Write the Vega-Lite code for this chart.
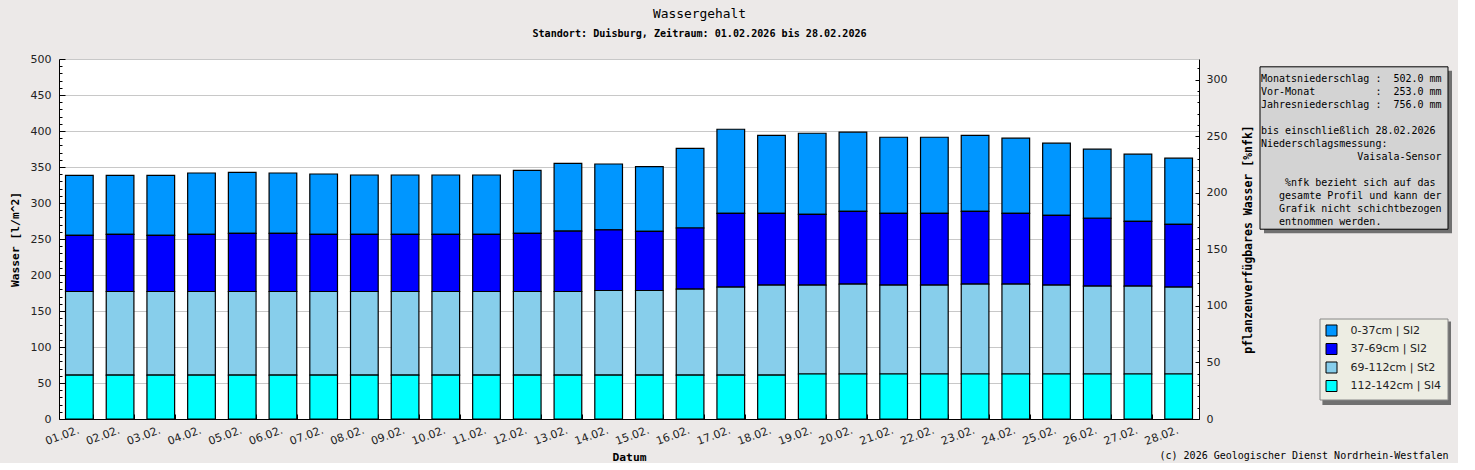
{
  "$schema": "https://vega.github.io/schema/vega-lite/v6.json",
  "background": "#ECE9E8",
  "padding": {"left": 9, "top": 8, "right": 5, "bottom": 0},
  "title": {
    "text": "Wassergehalt",
    "subtitle": "Standort: Duisburg, Zeitraum: 01.02.2026 bis 28.02.2026",
    "font": "DejaVu Sans Mono",
    "fontSize": 12.9,
    "fontWeight": "normal",
    "color": "black",
    "subtitleFont": "DejaVu Sans Mono",
    "subtitleFontSize": 10.1,
    "subtitleFontWeight": "bold",
    "subtitleColor": "black",
    "subtitlePadding": 8,
    "anchor": "middle",
    "dx": -31,
    "offset": 14
  },
  "bounds": "flush",
  "spacing": 61,
  "config": {
    "axis": {
      "labelFont": "DejaVu Sans",
      "labelFontSize": 11,
      "labelColor": "#222222",
      "domainColor": "black",
      "tickColor": "black",
      "titleFont": "DejaVu Sans Mono",
      "titleFontWeight": "bold",
      "titleFontSize": 11.3,
      "titleColor": "black",
      "gridColor": "#C8C8C8"
    },
    "legend": {
      "orient": "none",
      "legendX": 1260.5,
      "legendY": 259.5,
      "fillColor": "#EDEDE3",
      "strokeColor": "#888888",
      "padding": 6,
      "rowPadding": 2.5,
      "symbolType": "square",
      "symbolSize": 121,
      "symbolStrokeColor": "black",
      "symbolStrokeWidth": 1,
      "labelFont": "DejaVu Sans",
      "labelFontSize": 11,
      "labelColor": "#222222",
      "labelOffset": 13
    }
  },
  "hconcat": [
    {
      "width": 1140,
      "height": 360,
      "view": {"fill": "white", "stroke": null},
      "layer": [
        {
          "data": {
            "values": [
              {"d": "01.02.", "s": "0-37cm | Sl2", "n": 0, "v": 83.4},
              {"d": "01.02.", "s": "37-69cm | Sl2", "n": 37, "v": 78.0},
              {"d": "01.02.", "s": "69-112cm | St2", "n": 69, "v": 116.1},
              {"d": "01.02.", "s": "112-142cm | Sl4", "n": 112, "v": 61},
              {"d": "02.02.", "s": "0-37cm | Sl2", "n": 0, "v": 82.0},
              {"d": "02.02.", "s": "37-69cm | Sl2", "n": 37, "v": 79.4},
              {"d": "02.02.", "s": "69-112cm | St2", "n": 69, "v": 116.1},
              {"d": "02.02.", "s": "112-142cm | Sl4", "n": 112, "v": 61},
              {"d": "03.02.", "s": "0-37cm | Sl2", "n": 0, "v": 83.4},
              {"d": "03.02.", "s": "37-69cm | Sl2", "n": 37, "v": 78.0},
              {"d": "03.02.", "s": "69-112cm | St2", "n": 69, "v": 116.1},
              {"d": "03.02.", "s": "112-142cm | Sl4", "n": 112, "v": 61},
              {"d": "04.02.", "s": "0-37cm | Sl2", "n": 0, "v": 85.2},
              {"d": "04.02.", "s": "37-69cm | Sl2", "n": 37, "v": 79.4},
              {"d": "04.02.", "s": "69-112cm | St2", "n": 69, "v": 116.1},
              {"d": "04.02.", "s": "112-142cm | Sl4", "n": 112, "v": 61},
              {"d": "05.02.", "s": "0-37cm | Sl2", "n": 0, "v": 84.7},
              {"d": "05.02.", "s": "37-69cm | Sl2", "n": 37, "v": 80.8},
              {"d": "05.02.", "s": "69-112cm | St2", "n": 69, "v": 116.1},
              {"d": "05.02.", "s": "112-142cm | Sl4", "n": 112, "v": 61},
              {"d": "06.02.", "s": "0-37cm | Sl2", "n": 0, "v": 83.8},
              {"d": "06.02.", "s": "37-69cm | Sl2", "n": 37, "v": 80.8},
              {"d": "06.02.", "s": "69-112cm | St2", "n": 69, "v": 116.1},
              {"d": "06.02.", "s": "112-142cm | Sl4", "n": 112, "v": 61},
              {"d": "07.02.", "s": "0-37cm | Sl2", "n": 0, "v": 83.8},
              {"d": "07.02.", "s": "37-69cm | Sl2", "n": 37, "v": 79.4},
              {"d": "07.02.", "s": "69-112cm | St2", "n": 69, "v": 116.1},
              {"d": "07.02.", "s": "112-142cm | Sl4", "n": 112, "v": 61},
              {"d": "08.02.", "s": "0-37cm | Sl2", "n": 0, "v": 82.4},
              {"d": "08.02.", "s": "37-69cm | Sl2", "n": 37, "v": 79.4},
              {"d": "08.02.", "s": "69-112cm | St2", "n": 69, "v": 116.1},
              {"d": "08.02.", "s": "112-142cm | Sl4", "n": 112, "v": 61},
              {"d": "09.02.", "s": "0-37cm | Sl2", "n": 0, "v": 82.4},
              {"d": "09.02.", "s": "37-69cm | Sl2", "n": 37, "v": 79.4},
              {"d": "09.02.", "s": "69-112cm | St2", "n": 69, "v": 116.1},
              {"d": "09.02.", "s": "112-142cm | Sl4", "n": 112, "v": 61},
              {"d": "10.02.", "s": "0-37cm | Sl2", "n": 0, "v": 82.4},
              {"d": "10.02.", "s": "37-69cm | Sl2", "n": 37, "v": 79.4},
              {"d": "10.02.", "s": "69-112cm | St2", "n": 69, "v": 116.1},
              {"d": "10.02.", "s": "112-142cm | Sl4", "n": 112, "v": 61},
              {"d": "11.02.", "s": "0-37cm | Sl2", "n": 0, "v": 82.4},
              {"d": "11.02.", "s": "37-69cm | Sl2", "n": 37, "v": 79.4},
              {"d": "11.02.", "s": "69-112cm | St2", "n": 69, "v": 116.1},
              {"d": "11.02.", "s": "112-142cm | Sl4", "n": 112, "v": 61},
              {"d": "12.02.", "s": "0-37cm | Sl2", "n": 0, "v": 87.5},
              {"d": "12.02.", "s": "37-69cm | Sl2", "n": 37, "v": 80.8},
              {"d": "12.02.", "s": "69-112cm | St2", "n": 69, "v": 116.1},
              {"d": "12.02.", "s": "112-142cm | Sl4", "n": 112, "v": 61},
              {"d": "13.02.", "s": "0-37cm | Sl2", "n": 0, "v": 94.2},
              {"d": "13.02.", "s": "37-69cm | Sl2", "n": 37, "v": 83.8},
              {"d": "13.02.", "s": "69-112cm | St2", "n": 69, "v": 116.1},
              {"d": "13.02.", "s": "112-142cm | Sl4", "n": 112, "v": 61},
              {"d": "14.02.", "s": "0-37cm | Sl2", "n": 0, "v": 91.4},
              {"d": "14.02.", "s": "37-69cm | Sl2", "n": 37, "v": 84.3},
              {"d": "14.02.", "s": "69-112cm | St2", "n": 69, "v": 117.5},
              {"d": "14.02.", "s": "112-142cm | Sl4", "n": 112, "v": 61},
              {"d": "15.02.", "s": "0-37cm | Sl2", "n": 0, "v": 89.7},
              {"d": "15.02.", "s": "37-69cm | Sl2", "n": 37, "v": 82.2},
              {"d": "15.02.", "s": "69-112cm | St2", "n": 69, "v": 117.5},
              {"d": "15.02.", "s": "112-142cm | Sl4", "n": 112, "v": 61},
              {"d": "16.02.", "s": "0-37cm | Sl2", "n": 0, "v": 110.7},
              {"d": "16.02.", "s": "37-69cm | Sl2", "n": 37, "v": 84.9},
              {"d": "16.02.", "s": "69-112cm | St2", "n": 69, "v": 119.4},
              {"d": "16.02.", "s": "112-142cm | Sl4", "n": 112, "v": 61},
              {"d": "17.02.", "s": "0-37cm | Sl2", "n": 0, "v": 116.7},
              {"d": "17.02.", "s": "37-69cm | Sl2", "n": 37, "v": 102.5},
              {"d": "17.02.", "s": "69-112cm | St2", "n": 69, "v": 122.2},
              {"d": "17.02.", "s": "112-142cm | Sl4", "n": 112, "v": 61},
              {"d": "18.02.", "s": "0-37cm | Sl2", "n": 0, "v": 108.3},
              {"d": "18.02.", "s": "37-69cm | Sl2", "n": 37, "v": 99.7},
              {"d": "18.02.", "s": "69-112cm | St2", "n": 69, "v": 125.0},
              {"d": "18.02.", "s": "112-142cm | Sl4", "n": 112, "v": 61},
              {"d": "19.02.", "s": "0-37cm | Sl2", "n": 0, "v": 112.6},
              {"d": "19.02.", "s": "37-69cm | Sl2", "n": 37, "v": 98.3},
              {"d": "19.02.", "s": "69-112cm | St2", "n": 69, "v": 123.5},
              {"d": "19.02.", "s": "112-142cm | Sl4", "n": 112, "v": 62.5},
              {"d": "20.02.", "s": "0-37cm | Sl2", "n": 0, "v": 109.8},
              {"d": "20.02.", "s": "37-69cm | Sl2", "n": 37, "v": 101.1},
              {"d": "20.02.", "s": "69-112cm | St2", "n": 69, "v": 124.9},
              {"d": "20.02.", "s": "112-142cm | Sl4", "n": 112, "v": 62.5},
              {"d": "21.02.", "s": "0-37cm | Sl2", "n": 0, "v": 105.6},
              {"d": "21.02.", "s": "37-69cm | Sl2", "n": 37, "v": 99.7},
              {"d": "21.02.", "s": "69-112cm | St2", "n": 69, "v": 123.5},
              {"d": "21.02.", "s": "112-142cm | Sl4", "n": 112, "v": 62.5},
              {"d": "22.02.", "s": "0-37cm | Sl2", "n": 0, "v": 105.6},
              {"d": "22.02.", "s": "37-69cm | Sl2", "n": 37, "v": 99.7},
              {"d": "22.02.", "s": "69-112cm | St2", "n": 69, "v": 123.5},
              {"d": "22.02.", "s": "112-142cm | Sl4", "n": 112, "v": 62.5},
              {"d": "23.02.", "s": "0-37cm | Sl2", "n": 0, "v": 105.5},
              {"d": "23.02.", "s": "37-69cm | Sl2", "n": 37, "v": 101.1},
              {"d": "23.02.", "s": "69-112cm | St2", "n": 69, "v": 124.9},
              {"d": "23.02.", "s": "112-142cm | Sl4", "n": 112, "v": 62.5},
              {"d": "24.02.", "s": "0-37cm | Sl2", "n": 0, "v": 104.3},
              {"d": "24.02.", "s": "37-69cm | Sl2", "n": 37, "v": 98.3},
              {"d": "24.02.", "s": "69-112cm | St2", "n": 69, "v": 124.9},
              {"d": "24.02.", "s": "112-142cm | Sl4", "n": 112, "v": 62.5},
              {"d": "25.02.", "s": "0-37cm | Sl2", "n": 0, "v": 100.2},
              {"d": "25.02.", "s": "37-69cm | Sl2", "n": 37, "v": 96.9},
              {"d": "25.02.", "s": "69-112cm | St2", "n": 69, "v": 123.5},
              {"d": "25.02.", "s": "112-142cm | Sl4", "n": 112, "v": 62.5},
              {"d": "26.02.", "s": "0-37cm | Sl2", "n": 0, "v": 96.0},
              {"d": "26.02.", "s": "37-69cm | Sl2", "n": 37, "v": 94.2},
              {"d": "26.02.", "s": "69-112cm | St2", "n": 69, "v": 122.1},
              {"d": "26.02.", "s": "112-142cm | Sl4", "n": 112, "v": 62.5},
              {"d": "27.02.", "s": "0-37cm | Sl2", "n": 0, "v": 93.2},
              {"d": "27.02.", "s": "37-69cm | Sl2", "n": 37, "v": 90.0},
              {"d": "27.02.", "s": "69-112cm | St2", "n": 69, "v": 122.1},
              {"d": "27.02.", "s": "112-142cm | Sl4", "n": 112, "v": 62.5},
              {"d": "28.02.", "s": "0-37cm | Sl2", "n": 0, "v": 91.9},
              {"d": "28.02.", "s": "37-69cm | Sl2", "n": 37, "v": 87.2},
              {"d": "28.02.", "s": "69-112cm | St2", "n": 69, "v": 120.7},
              {"d": "28.02.", "s": "112-142cm | Sl4", "n": 112, "v": 62.5}
            ]
          },
          "mark": {"type": "bar", "stroke": "black", "strokeWidth": 1.2},
          "encoding": {
            "x": {
              "field": "d",
              "type": "nominal",
              "sort": null,
              "title": "Datum",
              "scale": {"paddingInner": 0.32, "paddingOuter": 0.16},
              "axis": {
                "labelAngle": -20,
                "labelAlign": "right",
                "labelBaseline": "top",
                "labelOffset": -3,
                "tickBand": "extent",
                "tickSize": -5,
                "labelPadding": 10,
                "titlePadding": 5
              }
            },
            "y": {
              "field": "v",
              "type": "quantitative",
              "stack": "zero",
              "title": "Wasser [l/m^2]",
              "scale": {"domain": [0, 500], "nice": false},
              "axis": {
                "orient": "left",
                "values": [0, 10, 20, 30, 40, 50, 60, 70, 80, 90, 100, 110, 120, 130, 140, 150, 160, 170, 180, 190, 200, 210, 220, 230, 240, 250, 260, 270, 280, 290, 300, 310, 320, 330, 340, 350, 360, 370, 380, 390, 400, 410, 420, 430, 440, 450, 460, 470, 480, 490, 500],
                "labelExpr": "datum.value % 50 === 0 ? datum.label : ''",
                "labelOverlap": false,
                "tickSize": {"condition": {"test": "datum.value % 50 === 0", "value": -6}, "value": -3},
                "gridOpacity": {"condition": {"test": "datum.value % 50 === 0", "value": 1}, "value": 0},
                "labelPadding": 14,
                "titlePadding": 10
              }
            },
            "color": {
              "field": "s",
              "type": "nominal",
              "scale": {
                "domain": ["0-37cm | Sl2", "37-69cm | Sl2", "69-112cm | St2", "112-142cm | Sl4"],
                "range": ["#0096FF", "#0000FF", "#87CEEB", "#00FFFF"]
              },
              "legend": {"title": null, "zindex": 2}
            },
            "order": {"field": "n", "sort": "descending"}
          }
        },
        {
          "data": {"values": [{"p": 0}, {"p": 300}]},
          "mark": {"type": "rule", "opacity": 0},
          "encoding": {
            "y": {
              "field": "p",
              "type": "quantitative",
              "title": "pflanzenverfügbares Wasser [%nfk]",
              "scale": {"domain": [0, 318.3], "nice": false},
              "axis": {
                "orient": "right",
                "values": [0, 10, 20, 30, 40, 50, 60, 70, 80, 90, 100, 110, 120, 130, 140, 150, 160, 170, 180, 190, 200, 210, 220, 230, 240, 250, 260, 270, 280, 290, 300, 310],
                "labelExpr": "datum.value % 50 === 0 ? datum.label : ''",
                "labelOverlap": false,
                "grid": false,
                "tickSize": {"condition": {"test": "datum.value % 50 === 0", "value": -4}, "value": -2},
                "labelPadding": 11,
                "titleAngle": -90,
                "titleBaseline": "top",
                "titleFontSize": 11.5,
                "titlePadding": 16
              }
            }
          }
        }
      ],
      "resolve": {"scale": {"y": "independent"}}
    },
    {
      "width": 188,
      "height": 360,
      "view": {"stroke": null},
      "encoding": {
        "x": {
          "datum": 0,
          "type": "quantitative",
          "scale": {"domain": [0, 1]},
          "axis": {
            "orient": "bottom",
            "domain": false,
            "ticks": false,
            "labels": false,
            "grid": false,
            "title": "(c) 2026 Geologischer Dienst Nordrhein-Westfalen",
            "titleFont": "DejaVu Sans Mono",
            "titleFontWeight": "normal",
            "titleFontSize": 10,
            "titleAnchor": "end",
            "titlePadding": 31
          }
        }
      },
      "layer": [
        {
          "data": {"values": [{"box": "info"}]},
          "mark": {"type": "rect", "color": "#707070"},
          "encoding": {
            "x": {"datum": 0.0213, "type": "quantitative"},
            "x2": {"datum": 1.0213},
            "y": {"datum": -0.53, "type": "quantitative", "scale": {"domain": [-1.44, 26.16], "reverse": true, "nice": false, "zero": false}, "axis": null},
            "y2": {"datum": 11.92}
          }
        },
        {
          "data": {"values": [{"box": "legend"}]},
          "mark": {"type": "rect", "color": "#707070"},
          "encoding": {
            "x": {"datum": 0.332, "type": "quantitative"},
            "x2": {"datum": 1.016},
            "y": {"datum": 18.69, "type": "quantitative"},
            "y2": {"datum": 25.09}
          }
        },
        {
          "data": {"values": [{"box": "info"}]},
          "mark": {"type": "rect", "fill": "#D3D3D3", "stroke": "black", "strokeWidth": 1},
          "encoding": {
            "x": {"datum": 0, "type": "quantitative"},
            "x2": {"datum": 1},
            "y": {"datum": -0.84, "type": "quantitative"},
            "y2": {"datum": 11.61}
          }
        },
        {
          "data": {
            "values": [
              {"i": 0, "line": "Monatsniederschlag\u00a0:\u00a0\u00a0502.0\u00a0mm"},
              {"i": 1, "line": "Vor-Monat\u00a0\u00a0\u00a0\u00a0\u00a0\u00a0\u00a0\u00a0\u00a0\u00a0:\u00a0\u00a0253.0\u00a0mm"},
              {"i": 2, "line": "Jahresniederschlag\u00a0:\u00a0\u00a0756.0\u00a0mm"},
              {"i": 4, "line": "bis\u00a0einschließlich\u00a028.02.2026"},
              {"i": 5, "line": "Niederschlagsmessung:"},
              {"i": 6, "line": "\u200b\u00a0\u00a0\u00a0\u00a0\u00a0\u00a0\u00a0\u00a0\u00a0\u00a0\u00a0\u00a0\u00a0\u00a0\u00a0\u00a0Vaisala-Sensor"},
              {"i": 8, "line": "\u200b\u00a0\u00a0\u00a0\u00a0%nfk\u00a0bezieht\u00a0sich\u00a0auf\u00a0das"},
              {"i": 9, "line": "\u200b\u00a0\u00a0\u00a0gesamte\u00a0Profil\u00a0und\u00a0kann\u00a0der"},
              {"i": 10, "line": "\u200b\u00a0\u00a0\u00a0Grafik\u00a0nicht\u00a0schichtbezogen"},
              {"i": 11, "line": "\u200b\u00a0\u00a0\u00a0entnommen\u00a0werden."}
            ]
          },
          "mark": {
            "type": "text",
            "align": "left",
            "baseline": "middle",
            "font": "DejaVu Sans Mono",
            "fontSize": 10,
            "color": "black",
            "dx": 1,
            "dy": 1
          },
          "encoding": {
            "y": {"field": "i", "type": "quantitative"},
            "text": {"field": "line", "type": "nominal"}
          }
        }
      ]
    }
  ]
}
